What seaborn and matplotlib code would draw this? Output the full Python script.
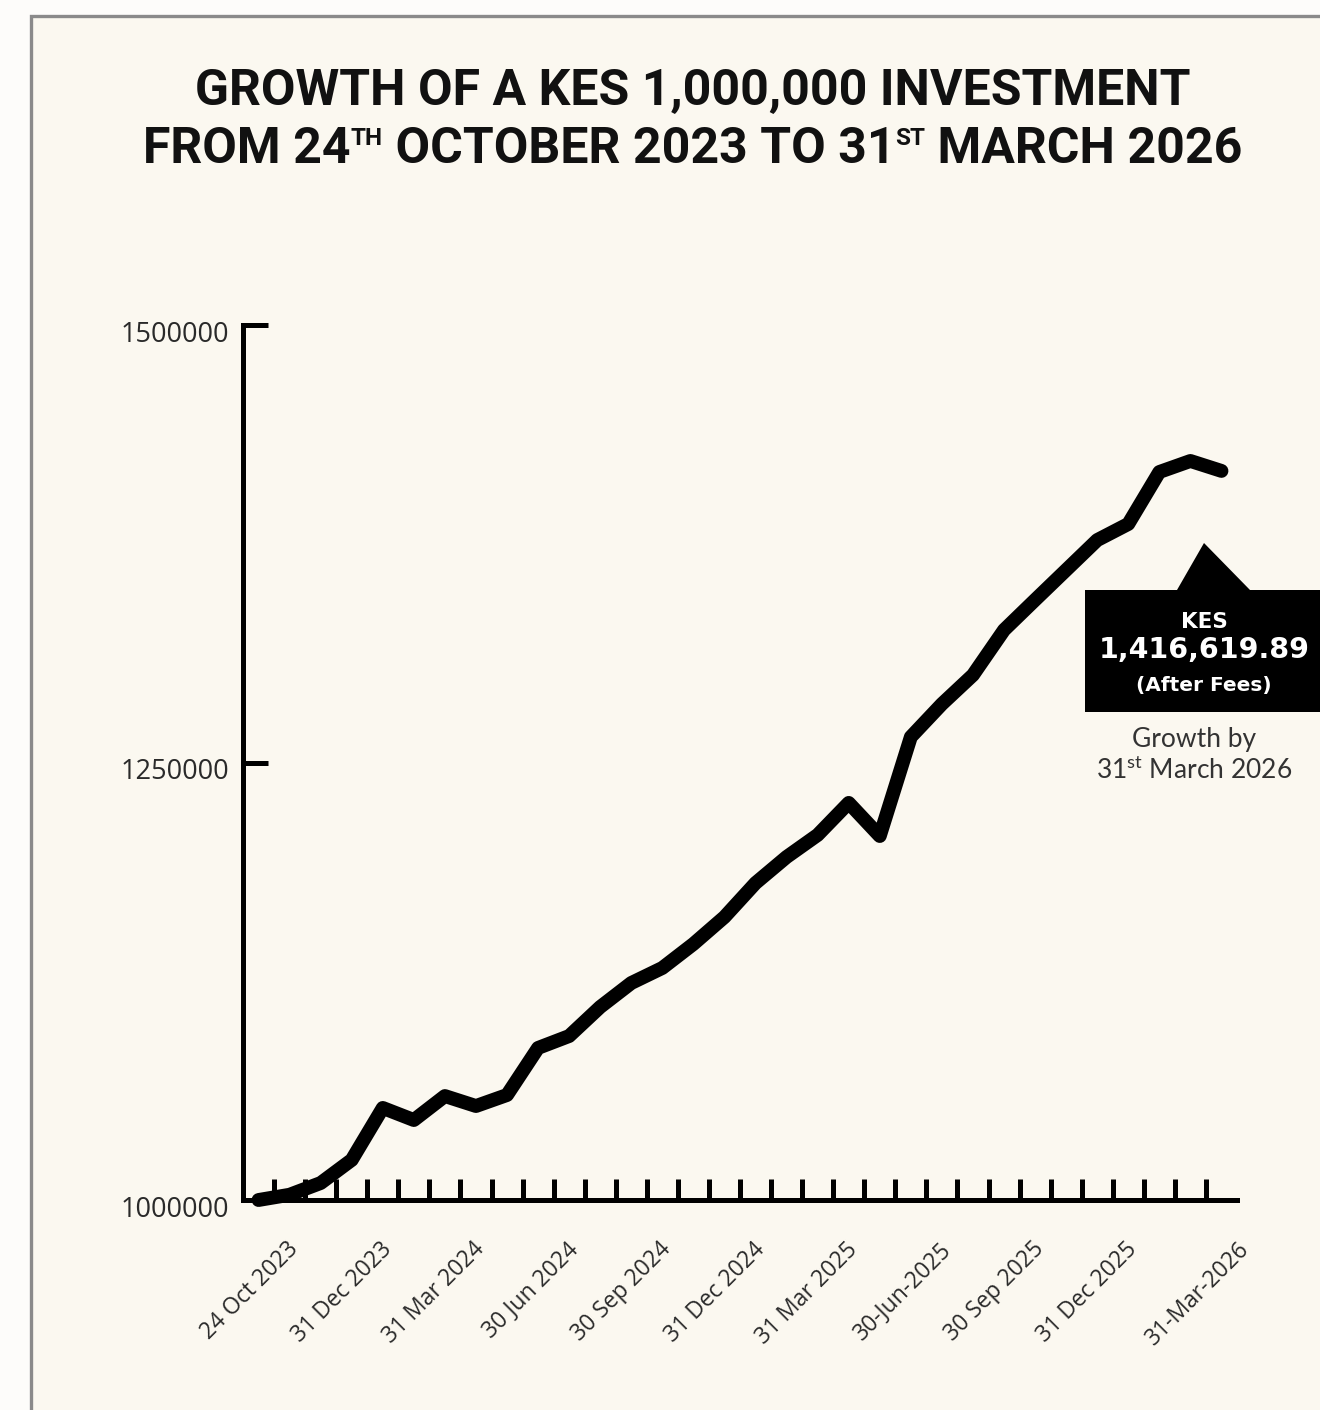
import matplotlib
matplotlib.use("Agg")
import matplotlib.pyplot as plt
from matplotlib.patches import Polygon, Rectangle
from matplotlib.ticker import FixedLocator
import matplotlib.transforms as mtransforms
import seaborn as sns
import pandas as pd

# ---------------- data ----------------
period_index = list(range(32))
portfolio_value = [
    1000000, 1003000, 1009700, 1022900, 1052600, 1045700, 1059400, 1053700,
    1060000, 1086900, 1093700, 1110300, 1124000, 1132600, 1146300, 1161700,
    1181100, 1196000, 1208600, 1226900, 1208000, 1264600, 1283400, 1300000,
    1325700, 1342900, 1360000, 1377100, 1386300, 1416000, 1422300, 1416619.89,
]
label_positions = [0, 3, 6, 9, 12, 15, 18, 21, 24, 27, 30.6]
x_tick_labels = [
    "24 Oct 2023", "31 Dec 2023", "31 Mar 2024", "30 Jun 2024", "30 Sep 2024",
    "31 Dec 2024", "31 Mar 2025", "30-Jun-2025", "30 Sep 2025", "31 Dec 2025",
    "31-Mar-2026",
]
y_ticks = [1000000, 1250000, 1500000]
title_line1 = "GROWTH OF A KES 1,000,000 INVESTMENT"
title_line2_parts = ["FROM 24", "TH", " OCTOBER 2023 TO 31", "ST", " MARCH 2026"]
title_line2_sup = [False, True, False, True, False]
callout_lines = ["KES", "(After Fees)"]
note_lines = ["Growth by", r"31$^{\mathregular{st}}$ March 2026"]

# ---------------- style ----------------
W, H = 1320, 1410
sns.set_theme(style="ticks")
plt.rcParams["font.family"] = ["DejaVu Sans"]

fig = plt.figure(figsize=(W / 100, H / 100), dpi=100)
fig.patch.set_facecolor("#fdfcfa")


def fx(x):
    return x / W


def fy(y):
    return 1 - y / H


def px(x, y):
    return (fx(x), fy(y))


# cream panel with grey frame
fig.add_artist(Rectangle(px(31, H + 30), 1.0, fy(16) - fy(H + 30),
                         transform=fig.transFigure, facecolor="#fbf8f0",
                         edgecolor="#8a8a8a", lw=2.4, zorder=0))

ax = fig.add_axes([fx(243), fy(1200), fx(1237) - fx(243), fy(325) - fy(1200)])
ax.set_facecolor("none")

df = pd.DataFrame({"period": period_index, "value": portfolio_value})
sns.lineplot(data=df, x="period", y="value", ax=ax, color="black",
             linewidth=10, solid_joinstyle="round", solid_capstyle="round",
             clip_on=False, zorder=5)

ax.set_xlim(-0.5, 31.5)
ax.set_ylim(1000000, 1500000)
ax.set_xlabel("")
ax.set_ylabel("")
for s in ["top", "right"]:
    ax.spines[s].set_visible(False)
for s in ["left", "bottom"]:
    ax.spines[s].set_linewidth(3.6)
    ax.spines[s].set_color("black")
    ax.spines[s].set_capstyle("projecting")

ax.yaxis.set_major_locator(FixedLocator(y_ticks))
ax.set_yticklabels([f"{v:d}" for v in y_ticks],
                   family=["Open Sans", "DejaVu Sans"])
ax.tick_params(axis="y", which="major", direction="in", length=18, width=3.6,
               pad=10, labelsize=19.5, labelcolor="#2a2a2a", color="black")
for t in ax.get_yticklabels():
    t.set_transform(t.get_transform() +
                    mtransforms.ScaledTranslation(0, -0.06, fig.dpi_scale_trans))

shift = 0.9
ax.xaxis.set_major_locator(FixedLocator([p + shift for p in label_positions]))
ax.set_xticklabels(x_tick_labels, rotation=45, ha="right",
                   rotation_mode="anchor", family=["Open Sans", "DejaVu Sans"],
                   color="#2a2a2a")
ax.xaxis.set_minor_locator(FixedLocator([i + 0.5 for i in range(32)]))
ax.tick_params(axis="x", which="major", length=0, pad=27, labelsize=16.5)
ax.tick_params(axis="x", which="minor", bottom=True, direction="in",
               length=15, width=3.6, color="black")

# ---------------- title ----------------
title_family = ["Roboto", "DejaVu Sans"]
fig.text(fx(693), fy(92), title_line1, ha="center", va="center",
         fontsize=36, fontweight="bold", family=title_family, color="#111111")

renderer = fig.canvas.get_renderer()
main_size, sup_size = 36, 17.5
baseline_y = 163
sup_raise = (main_size - sup_size) * (100 / 72) * 0.711
pieces = []
for part, is_sup in zip(title_line2_parts, title_line2_sup):
    t = fig.text(0, fy(baseline_y - (sup_raise if is_sup else 0)), part,
                 ha="left", va="baseline",
                 fontsize=sup_size if is_sup else main_size,
                 fontweight="bold", family=title_family, color="#111111")
    w = t.get_window_extent(renderer).width
    pieces.append((t, w))
total = sum(w for _, w in pieces)
x0 = 693 - total / 2
for t, w in pieces:
    t.set_x(fx(x0))
    x0 += w

# ---------------- callout ----------------
callout = Polygon([px(1085, 590), px(1177, 590), px(1204, 543), px(1250, 590),
                   px(1330, 590), px(1330, 712), px(1085, 712)],
                  closed=True, transform=fig.transFigure,
                  facecolor="black", edgecolor="none", zorder=3)
fig.add_artist(callout)
fig.text(fx(1204), fy(622), callout_lines[0], ha="center", va="center",
         fontsize=15.5, fontweight="bold", color="white")
fig.text(fx(1204), fy(650), f"{portfolio_value[-1]:,.2f}", ha="center",
         va="center", fontsize=20.5, fontweight="bold", color="white")
fig.text(fx(1204), fy(686), callout_lines[1], ha="center", va="center",
         fontsize=14.5, fontweight="bold", color="white")

fig.text(fx(1194), fy(740), note_lines[0], ha="center", va="center",
         fontsize=19, family=["Lato", "DejaVu Sans"], color="#333333")
fig.text(fx(1194), fy(770), note_lines[1], ha="center", va="center",
         fontsize=19, family=["Lato", "DejaVu Sans"], color="#333333")

fig.savefig("out.png", dpi=100, facecolor=fig.get_facecolor())
